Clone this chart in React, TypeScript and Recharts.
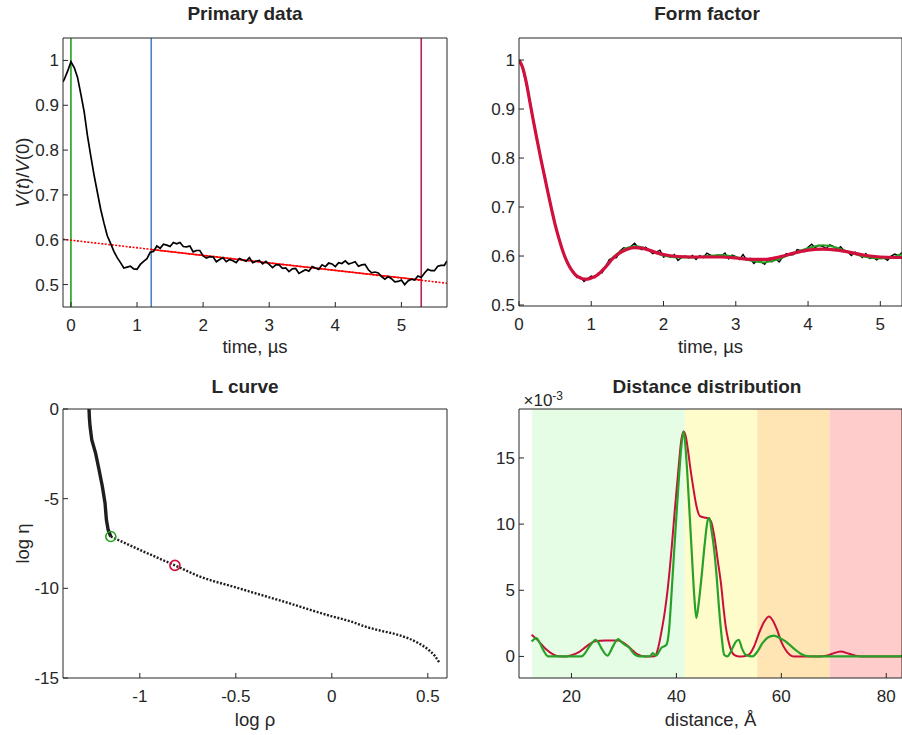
import React from "react"
import { ComposedChart, Line, XAxis, YAxis, ReferenceLine, ReferenceArea } from "recharts"

const INK = "#262626"
const FONT = "'Liberation Sans', Arial, Helvetica, sans-serif"

// Primary data: time (µs), V(t)/V(0)
const primaryTrace: [number, number][] = [
  [-0.12, 0.952], [-0.1, 0.958], [-0.05, 0.976], [0, 0.997], [0.05, 0.984], [0.1, 0.962],
  [0.15, 0.925], [0.2, 0.886], [0.25, 0.832], [0.3, 0.787], [0.35, 0.744], [0.4, 0.706],
  [0.45, 0.668], [0.5, 0.637], [0.55, 0.609], [0.6, 0.592], [0.65, 0.574], [0.7, 0.56],
  [0.75, 0.549], [0.8, 0.537], [0.85, 0.539], [0.9, 0.541], [0.95, 0.535], [1.0, 0.534],
  [1.05, 0.545], [1.1, 0.552], [1.15, 0.558], [1.2, 0.572], [1.25, 0.574], [1.3, 0.586],
  [1.35, 0.581], [1.4, 0.59], [1.45, 0.588], [1.5, 0.585], [1.55, 0.594], [1.6, 0.591],
  [1.65, 0.594], [1.7, 0.585], [1.75, 0.584], [1.8, 0.586], [1.85, 0.573], [1.9, 0.576],
  [1.95, 0.576], [2.0, 0.564], [2.05, 0.559], [2.1, 0.562], [2.15, 0.562], [2.2, 0.551],
  [2.25, 0.556], [2.3, 0.56], [2.35, 0.551], [2.4, 0.556], [2.45, 0.553], [2.5, 0.549],
  [2.55, 0.558], [2.6, 0.555], [2.65, 0.552], [2.7, 0.56], [2.75, 0.549], [2.8, 0.552],
  [2.85, 0.554], [2.9, 0.546], [2.95, 0.552], [3.0, 0.545], [3.05, 0.538], [3.1, 0.544],
  [3.15, 0.544], [3.2, 0.536], [3.25, 0.537], [3.3, 0.529], [3.35, 0.535], [3.4, 0.536],
  [3.45, 0.525], [3.5, 0.529], [3.55, 0.533], [3.6, 0.53], [3.65, 0.54], [3.7, 0.537],
  [3.75, 0.534], [3.8, 0.544], [3.85, 0.54], [3.9, 0.548], [3.95, 0.546], [4.0, 0.54],
  [4.05, 0.549], [4.1, 0.547], [4.15, 0.553], [4.2, 0.546], [4.25, 0.548], [4.3, 0.551],
  [4.35, 0.541], [4.4, 0.544], [4.45, 0.545], [4.5, 0.533], [4.55, 0.526], [4.6, 0.528],
  [4.65, 0.526], [4.7, 0.518], [4.75, 0.512], [4.8, 0.518], [4.85, 0.513], [4.9, 0.506],
  [4.95, 0.507], [5.0, 0.51], [5.05, 0.5], [5.1, 0.508], [5.15, 0.512], [5.2, 0.51],
  [5.25, 0.519], [5.3, 0.516], [5.35, 0.526], [5.4, 0.534], [5.45, 0.531], [5.5, 0.531],
  [5.55, 0.541], [5.6, 0.543], [5.65, 0.543], [5.69, 0.553],
]
const backgroundFull: [number, number][] = [[-0.12, 0.601], [5.69, 0.503]]
const backgroundFitted: [number, number][] = [[1.215, 0.578], [5.3, 0.51]]
const markerTimes = [0, 1.215, 5.3]
const markerColors = ["#20a020", "#4f7fc8", "#b42850"]
const primaryTicksX = [0, 1, 2, 3, 4, 5]
const primaryTicksY = [0.5, 0.6, 0.7, 0.8, 0.9, 1]

// Form factor
const formTrace: [number, number][] = [
  [0, 1.0], [0.05, 0.983], [0.1, 0.951], [0.15, 0.917], [0.2, 0.872], [0.25, 0.839],
  [0.3, 0.798], [0.35, 0.767], [0.4, 0.728], [0.45, 0.698], [0.5, 0.662], [0.55, 0.639],
  [0.6, 0.611], [0.65, 0.595], [0.7, 0.576], [0.75, 0.569], [0.8, 0.556], [0.85, 0.557],
  [0.9, 0.548], [0.95, 0.554], [1.0, 0.559], [1.05, 0.556], [1.1, 0.566], [1.15, 0.566],
  [1.2, 0.579], [1.25, 0.593], [1.3, 0.596], [1.35, 0.597], [1.4, 0.611], [1.45, 0.617],
  [1.5, 0.614], [1.55, 0.62], [1.6, 0.626], [1.65, 0.617], [1.7, 0.613], [1.75, 0.618],
  [1.8, 0.612], [1.85, 0.605], [1.9, 0.608], [1.95, 0.612], [2.0, 0.598], [2.05, 0.601],
  [2.1, 0.597], [2.15, 0.603], [2.2, 0.591], [2.25, 0.597], [2.3, 0.6], [2.35, 0.596],
  [2.4, 0.601], [2.45, 0.593], [2.5, 0.601], [2.55, 0.597], [2.6, 0.606], [2.65, 0.602],
  [2.7, 0.598], [2.75, 0.602], [2.8, 0.6], [2.85, 0.606], [2.9, 0.594], [2.95, 0.602],
  [3.0, 0.599], [3.05, 0.593], [3.1, 0.603], [3.15, 0.592], [3.2, 0.595], [3.25, 0.585],
  [3.3, 0.591], [3.35, 0.588], [3.4, 0.583], [3.45, 0.594], [3.5, 0.588], [3.55, 0.595],
  [3.6, 0.588], [3.65, 0.598], [3.7, 0.605], [3.75, 0.602], [3.8, 0.603], [3.85, 0.613],
  [3.9, 0.611], [3.95, 0.609], [4.0, 0.618], [4.05, 0.624], [4.1, 0.617], [4.15, 0.622],
  [4.2, 0.62], [4.25, 0.615], [4.3, 0.623], [4.35, 0.62], [4.4, 0.613], [4.45, 0.619],
  [4.5, 0.611], [4.55, 0.608], [4.6, 0.601], [4.65, 0.608], [4.7, 0.604], [4.75, 0.597],
  [4.8, 0.605], [4.85, 0.595], [4.9, 0.597], [4.95, 0.592], [5.0, 0.598], [5.05, 0.596],
  [5.1, 0.591], [5.15, 0.6], [5.2, 0.604], [5.25, 0.601], [5.3, 0.607],
]
const formFitGreen: [number, number][] = [
  [0, 1.0], [0.05, 0.985], [0.1, 0.955], [0.15, 0.915], [0.2, 0.875], [0.25, 0.837],
  [0.3, 0.8], [0.35, 0.765], [0.4, 0.73], [0.45, 0.696], [0.5, 0.664], [0.55, 0.637],
  [0.6, 0.613], [0.65, 0.593], [0.7, 0.578], [0.75, 0.567], [0.8, 0.559], [0.85, 0.555],
  [0.9, 0.553], [0.95, 0.553], [1.0, 0.555], [1.1, 0.563], [1.2, 0.579], [1.3, 0.597],
  [1.4, 0.609], [1.5, 0.617], [1.6, 0.62], [1.7, 0.618], [1.8, 0.612], [1.9, 0.606],
  [2.0, 0.601], [2.2, 0.597], [2.4, 0.597], [2.6, 0.6], [2.8, 0.602], [3.0, 0.598],
  [3.2, 0.591], [3.4, 0.587], [3.6, 0.594], [3.8, 0.606], [4.0, 0.616], [4.2, 0.622],
  [4.4, 0.617], [4.6, 0.606], [4.8, 0.598], [5.0, 0.595], [5.2, 0.599], [5.3, 0.604],
]
const formFitRed: [number, number][] = [
  [0, 1.0], [0.05, 0.985], [0.1, 0.955], [0.15, 0.915], [0.2, 0.875], [0.25, 0.837],
  [0.3, 0.8], [0.35, 0.765], [0.4, 0.73], [0.45, 0.696], [0.5, 0.664], [0.55, 0.637],
  [0.6, 0.613], [0.65, 0.593], [0.7, 0.578], [0.75, 0.567], [0.8, 0.559], [0.85, 0.555],
  [0.9, 0.553], [0.95, 0.553], [1.0, 0.555], [1.1, 0.563], [1.2, 0.578], [1.3, 0.595],
  [1.4, 0.607], [1.5, 0.614], [1.6, 0.617], [1.7, 0.616], [1.8, 0.612], [1.9, 0.607],
  [2.0, 0.603], [2.2, 0.599], [2.4, 0.598], [2.6, 0.598], [2.8, 0.598], [3.0, 0.596],
  [3.2, 0.593], [3.4, 0.593], [3.6, 0.598], [3.8, 0.606], [4.0, 0.612], [4.2, 0.614],
  [4.4, 0.612], [4.6, 0.607], [4.8, 0.601], [5.0, 0.598], [5.2, 0.597], [5.3, 0.597],
]
const formTicksY = [0.5, 0.6, 0.7, 0.8, 0.9, 1]

// L curve: log rho, log eta
const lcurveSteep: [number, number][] = [
  [-1.2645, 0], [-1.2625, -0.5], [-1.259, -0.98], [-1.25, -1.73], [-1.23, -2.47],
  [-1.212, -3.4], [-1.195, -4.32], [-1.181, -5.25], [-1.174, -6.18], [-1.165, -6.73],
  [-1.151, -7.11],
]
const lcurveTail: [number, number][] = [
  [-1.151, -7.11], [-0.98, -7.95], [-0.817, -8.72], [-0.69, -9.33], [-0.5, -9.95],
  [-0.256, -10.72], [0, -11.56], [0.1, -11.85], [0.179, -12.15], [0.25, -12.35],
  [0.353, -12.62], [0.45, -13.05], [0.5, -13.4], [0.535, -13.75], [0.561, -14.16],
]
const cornerGreen: [number, number][] = [[-1.151, -7.11]]
const cornerRed: [number, number][] = [[-0.817, -8.72]]
const lcurveTicksX = [-1, -0.5, 0, 0.5]
const lcurveTicksY = [-15, -10, -5, 0]

// Distance distribution: distance (Å), P (×10^-3)
const distRed: [number, number][] = [
  [12.4, 1.64], [13.5, 1.25], [15, 0.6], [16.5, 0.15], [17.5, 0.02], [19, 0], [20, 0.1],
  [21.5, 0.35], [23, 0.8], [24.5, 1.15], [26.5, 1.2], [28.9, 1.2], [30, 1.0], [30.8, 0.76],
  [31.8, 0.4], [32.7, 0.13], [34, 0], [35.9, 0.02], [36.5, 0.6], [37.1, 1.76], [37.8, 3.4],
  [38.4, 5.3], [39.1, 8.2], [39.7, 11.1], [40.4, 14.2], [40.95, 16.4], [41.4, 17.0],
  [41.8, 16.6], [42.2, 15.6], [42.7, 14.1], [43.2, 12.8], [43.8, 11.4], [44.5, 10.6],
  [45.3, 10.5], [46, 10.45], [46.6, 10.2], [47.3, 8.9], [47.9, 7.2], [48.5, 5.5], [49, 3.6],
  [49.4, 2.27], [49.9, 1.2], [50.4, 0.5], [51, 0.12], [51.9, 0], [52.9, 0.02], [53.8, 0.13],
  [54.8, 0.75], [55.75, 1.76], [56.7, 2.6], [57.65, 3.02], [58.4, 2.7], [59.2, 2.0],
  [60, 1.1], [60.8, 0.5], [61.6, 0.13], [62.4, 0], [67.2, 0], [68.5, 0.05], [69.7, 0.2],
  [71.3, 0.38], [72.9, 0.2], [74.2, 0.05], [75.4, 0], [83, 0],
]
const distGreen: [number, number][] = [
  [12.4, 1.13], [13.3, 1.39], [14, 1.0], [14.6, 0.5], [15.6, 0], [21.9, 0], [22.6, 0.25],
  [23.2, 0.63], [24, 1.05], [24.6, 1.26], [25.2, 1.0], [25.7, 0.63], [26.3, 0.25],
  [26.9, 0.05], [27.4, 0.35], [27.9, 0.76], [28.9, 1.31], [29.5, 1.1], [30.2, 0.88],
  [31.1, 0.63], [31.6, 0.35], [32.1, 0.13], [33, 0], [35, 0.02], [35.5, 0.25], [36.1, 0.05],
  [36.6, 0.3], [37.1, 0.63], [38.1, 0.88], [38.6, 2.0], [39, 4.28], [39.5, 7.5], [40, 10.6],
  [40.5, 13.6], [40.95, 15.9], [41.4, 17.0], [41.9, 14.9], [42.4, 11.6], [42.9, 8.06],
  [43.4, 4.6], [43.8, 2.9], [44.3, 4.2], [44.8, 6.05], [45.4, 8.5], [46, 10.33],
  [46.3, 10.45], [46.7, 9.5], [47.2, 8.06], [47.7, 5.9], [48.1, 3.78], [48.6, 1.6],
  [49.1, 0.13], [49.7, 0], [50.7, 0.63], [51.3, 1.1], [51.9, 1.26], [52.5, 0.6],
  [53.2, 0.13], [54.5, 0], [55.5, 0.4], [56.4, 1.0], [57.5, 1.45], [58.6, 1.58],
  [59.7, 1.4], [60.8, 1.13], [61.8, 0.8], [62.7, 0.5], [63.7, 0.2], [64.6, 0.05], [66, 0],
  [82, 0], [83, 0.05],
]
const bandEdges = [12.5, 41.6, 55.4, 69.2, 83]
const bandColors = ["#e5fce5", "#fffccc", "#ffe5b3", "#ffcccc"]
const distTicksX = [20, 40, 60, 80]
const distTicksY = [0, 5, 10, 15]

const pts = (a: [number, number][]) => a.map(([x, y]) => ({ x, y }))

type Part = { text: string; italic?: boolean }

function rotatedLabel(parts: Part[]) {
  return (props: any) => {
    const vb = props.viewBox || {}
    const cx = (vb.x ?? 0) + 22
    const cy = (vb.y ?? 0) + (vb.height ?? 0) / 2
    return (
      <text x={cx} y={cy} dy="0.36em" transform={`rotate(-90, ${cx}, ${cy})`} textAnchor="middle" fill={INK} fontSize={18.5}>
        {parts.map((p, i) => (
          <tspan key={i} fontStyle={p.italic ? "italic" : "normal"}>{p.text}</tspan>
        ))}
      </text>
    )
  }
}

interface FrameOpts {
  xDomain: [number, number]
  yDomain: [number, number]
  xTicks: number[]
  yTicks: number[]
  xHeight: number
  yWidth: number
  xLabel: string
  xLabelOffset: number
  yLabel?: Part[]
}

// box axes: labelled bottom/left, bare mirrored top/right, all ticks pointing in
function frame(o: FrameOpts) {
  return [
    <XAxis key="xb" xAxisId="x" type="number" dataKey="x" domain={o.xDomain} allowDataOverflow
      ticks={o.xTicks} interval={0} tickSize={-5} tickMargin={17} height={o.xHeight}
      stroke={INK} tick={{ fill: INK, fontSize: 17 }}
      label={{ value: o.xLabel, position: "insideBottom", offset: o.xLabelOffset, fill: INK, fontSize: 18.5 }} />,
    <XAxis key="xt" xAxisId="xt" orientation="top" mirror type="number" dataKey="x" domain={o.xDomain}
      allowDataOverflow ticks={o.xTicks} interval={0} tick={false} tickSize={5} stroke={INK} />,
    <YAxis key="yl" yAxisId="y" type="number" dataKey="y" domain={o.yDomain} allowDataOverflow
      ticks={o.yTicks} interval={0} tickSize={-5} tickMargin={9} width={o.yWidth}
      stroke={INK} tick={{ fill: INK, fontSize: 17 }}
      label={o.yLabel ? { content: rotatedLabel(o.yLabel) } : undefined} />,
    <YAxis key="yr" yAxisId="yr" orientation="right" mirror type="number" dataKey="y" domain={o.yDomain}
      allowDataOverflow ticks={o.yTicks} interval={0} tick={false} tickSize={5} width={1} stroke={INK} />,
  ]
}

const lineBase = { xAxisId: "x", yAxisId: "y", dataKey: "y", dot: false, activeDot: false, isAnimationActive: false } as const

function PrimaryPanel() {
  return (
    <ComposedChart width={451} height={360} margin={{ top: 38, right: 4, bottom: 0, left: 0 }}>
      {frame({
        xDomain: [-0.12, 5.69], yDomain: [0.45, 1.05], xTicks: primaryTicksX, yTicks: primaryTicksY,
        xHeight: 53, yWidth: 63, xLabel: "time, µs", xLabelOffset: 7,
        yLabel: [{ text: "V", italic: true }, { text: "(" }, { text: "t", italic: true }, { text: ")/" }, { text: "V", italic: true }, { text: "(0)" }],
      })}
      {markerTimes.map((t, i) => (
        <ReferenceLine key={i} x={t} xAxisId="x" yAxisId="y" stroke={markerColors[i]} strokeWidth={1.6} />
      ))}
      <Line {...lineBase} data={pts(backgroundFull)} type="linear" stroke="#ff0000" strokeWidth={1.6} strokeDasharray="2 1.5" />
      <Line {...lineBase} data={pts(backgroundFitted)} type="linear" stroke="#ff0000" strokeWidth={1.5} />
      <Line {...lineBase} data={pts(primaryTrace)} type="linear" stroke="#000000" strokeWidth={1.7} />
    </ComposedChart>
  )
}

function FormPanel() {
  return (
    <ComposedChart width={451} height={360} margin={{ top: 38, right: 0, bottom: 0, left: 0 }}>
      {frame({
        xDomain: [0, 5.3], yDomain: [0.498, 1.045], xTicks: primaryTicksX, yTicks: formTicksY,
        xHeight: 54, yWidth: 68, xLabel: "time, µs", xLabelOffset: 7,
      })}
      <Line {...lineBase} data={pts(formTrace)} type="linear" stroke="#000000" strokeWidth={1.4} />
      <Line {...lineBase} data={pts(formFitGreen)} type="monotone" stroke="#23a023" strokeWidth={2} />
      <Line {...lineBase} data={pts(formFitRed)} type="monotone" stroke="#d1103e" strokeWidth={3.2} />
    </ComposedChart>
  )
}

function LCurvePanel() {
  return (
    <ComposedChart width={451} height={375} margin={{ top: 49, right: 4, bottom: 0, left: 0 }}>
      {frame({
        xDomain: [-1.4, 0.6], yDomain: [-15, 0], xTicks: lcurveTicksX, yTicks: lcurveTicksY,
        xHeight: 57, yWidth: 63, xLabel: "log ρ", xLabelOffset: 9.5,
        yLabel: [{ text: "log η" }],
      })}
      <Line {...lineBase} data={pts(lcurveSteep)} type="linear" stroke="#1e1e1e" strokeWidth={3.4} />
      <Line {...lineBase} data={pts(lcurveTail)} type="monotone" stroke="#1e1e1e" strokeWidth={2.4} strokeDasharray="2 1.6" />
      <Line {...lineBase} data={pts(cornerGreen)} stroke="none" dot={{ r: 5, fill: "none", stroke: "#22a022", strokeWidth: 1.6 }} />
      <Line {...lineBase} data={pts(cornerRed)} stroke="none" dot={{ r: 5, fill: "none", stroke: "#d1103e", strokeWidth: 1.6 }} />
    </ComposedChart>
  )
}

function DistancePanel() {
  return (
    <ComposedChart width={451} height={375} margin={{ top: 49, right: 0, bottom: 0, left: 0 }}>
      {bandColors.map((c, i) => (
        <ReferenceArea key={i} xAxisId="x" yAxisId="y" x1={bandEdges[i]} x2={bandEdges[i + 1]} fill={c} fillOpacity={1} stroke="none" />
      ))}
      {frame({
        xDomain: [10, 83], yDomain: [-1.63, 18.7], xTicks: distTicksX, yTicks: distTicksY,
        xHeight: 57, yWidth: 68, xLabel: "distance, Å", xLabelOffset: 9.5,
      })}
      <Line {...lineBase} data={pts(distRed)} type="monotone" stroke="#c8103a" strokeWidth={2} />
      <Line {...lineBase} data={pts(distGreen)} type="monotone" stroke="#27a127" strokeWidth={2.2} />
    </ComposedChart>
  )
}

export default function App() {
  const cell = (left: number, top: number): React.CSSProperties => ({ position: "absolute", left, top })
  return (
    <div style={{ position: "absolute", left: 0, top: 0, width: 902, height: 735, background: "#fff", fontFamily: FONT, overflow: "hidden" }}>
      <div style={cell(0, 0)}><PrimaryPanel /></div>
      <div style={cell(451, 0)}><FormPanel /></div>
      <div style={cell(0, 360)}><LCurvePanel /></div>
      <div style={cell(451, 360)}><DistancePanel /></div>
      <svg width={902} height={735} style={{ position: "absolute", left: 0, top: 0, pointerEvents: "none" }}>
        <g fill={INK} fontWeight="bold" fontSize={19} textAnchor="middle">
          <text x={245} y={20}>Primary data</text>
          <text x={707} y={20}>Form factor</text>
          <text x={245} y={392.5}>L curve</text>
          <text x={707} y={392.5}>Distance distribution</text>
        </g>
        <text x={523.5} y={405.5} fill={INK} fontSize={17}>
          ×10<tspan dy={-6} fontSize={12}>-3</tspan>
        </text>
      </svg>
    </div>
  )
}
